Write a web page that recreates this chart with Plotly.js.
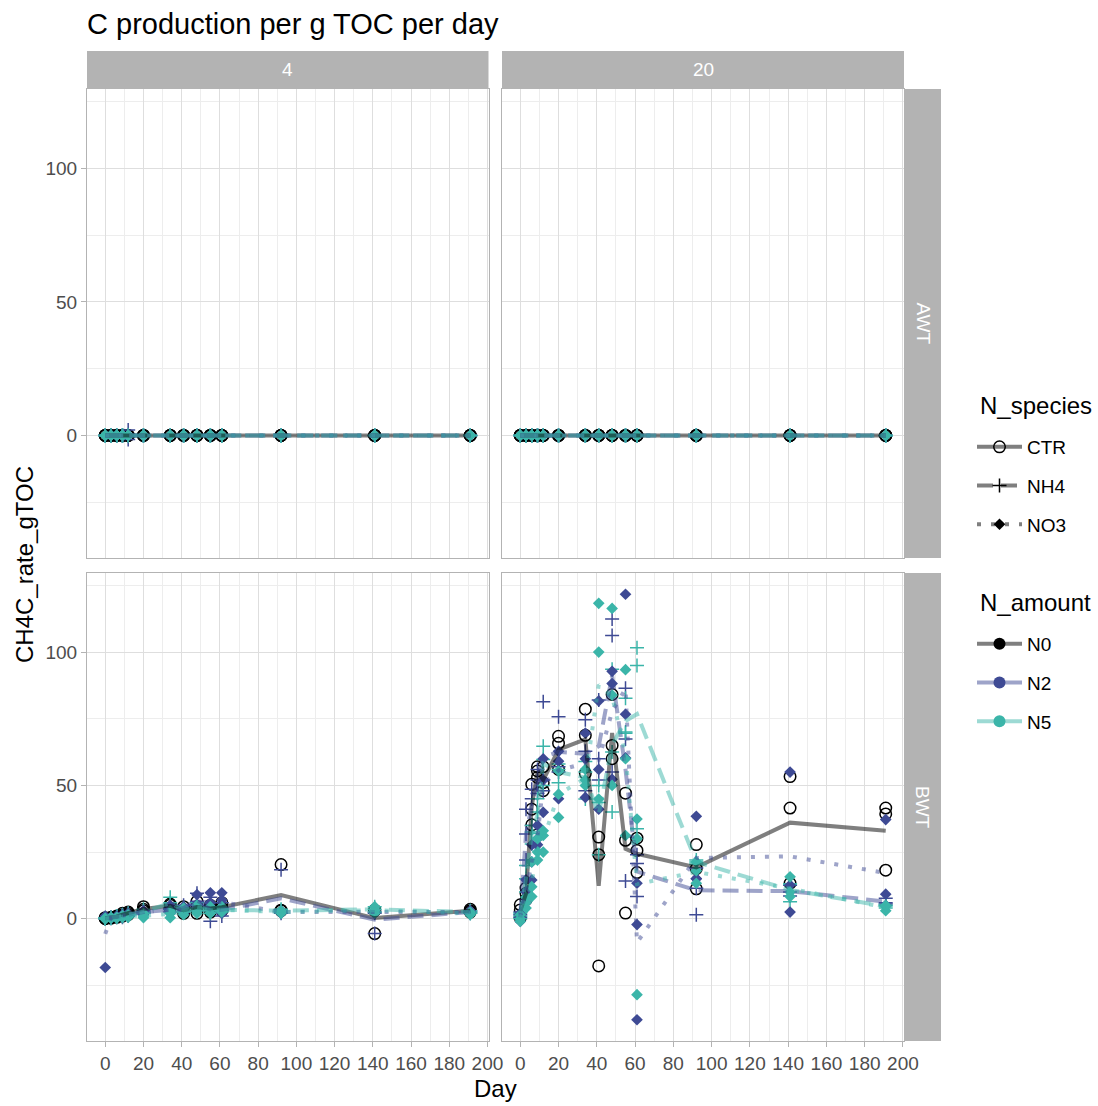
<!DOCTYPE html>
<html><head><meta charset="utf-8">
<script src="https://cdn.plot.ly/plotly-3.0.1.min.js"></script>
<style>html,body{margin:0;padding:0;background:#fff}</style>
</head><body><div id="chart" style="width:1098px;height:1106px"></div>
<script>
// ---------------- DATA ----------------
const days = [0, 3, 6, 9, 12, 20, 34, 41, 48, 55, 61, 92, 141, 191];
const temperatures = ["4", "20"];
const sites = ["AWT", "BWT"];
const speciesLevels = ["CTR", "NH4", "NO3"];
const amountLevels = ["N0", "N2", "N5"];
const treatmentSpecies = ["CTR", "NH4", "NH4", "NO3", "NO3"];
const treatmentAmount  = ["N0", "N2", "N5", "N2", "N5"];

// AWT, 4 degrees: three replicates per treatment, aligned with days
const awt4_ctr_n0 = [[0,0,0,0,0,0,0,0,0,0,0,0,0,0],[0,0,0,0,0,0,0,0,0,0,0,0,0,0],[0,0,0,0,0,0,0,0,0,0,0,0,0,0]];
const awt4_nh4_n2 = [[0,0,0,0,2,0,0,0,0,0,0,0,0,0],[0,0,0,0,-1.5,0,0,0,0,0,0,0,0,0],[0,0,0,0,0,0,0,0,0,0,0,0,0,0]];
const awt4_nh4_n5 = [[0,0,0,0,0,0,0,0,0,0,0,0,0,0],[0,0,0,0,0,0,0,0,0,0,0,0,0,0],[0,0,0,0,0,0,0,0,0,0,0,0,0,0]];
const awt4_no3_n2 = [[0,0,0,0,0,0,0,0,0,0,0,0,0,0],[0,0,0,0,0,0,0,0,0,0,0,0,0,0],[0,0,0,0,0,0,0,0,0,0,0,0,0,0]];
const awt4_no3_n5 = [[0,0,0,0,0,0,0,0,0,0,0,0,0,0],[0,0,0,0,0,0,0,0,0,0,0,0,0,0],[0,0,0,0,0,0,0,0,0,0,0,0,0,0]];
// AWT, 20 degrees
const awt20_ctr_n0 = [[0,0,0,0,0,0,0,0,0,0,0,0,0,0],[0,0,0,0,0,0,0,0,0,0,0,0,0,0],[0,0,0,0,0,0,0,0,0,0,0,0,0,0]];
const awt20_nh4_n2 = [[0,0,0,0,0,0,0,0,0,0,0,0,0,0],[0,0,0,0,0,0,0,0,0,0,0,0,0,0],[0,0,0,0,0,0,0,0,0,0,0,0,0,0]];
const awt20_nh4_n5 = [[0,0,0,0,0,0,0,0,0,0,0,0,0,0],[0,0,0,0,0,0,0,0,0,0,0,0,0,0],[0,0,0,0,0,0,0,0,0,0,0,0,0,0]];
const awt20_no3_n2 = [[0,0,0,0,0,0,0,0,0,0,0,0,0,0],[0,0,0,0,0,0,0,0,0,0,0,0,0,0],[0,0,0,0,0,0,0,0,0,0,0,0,0,0]];
const awt20_no3_n5 = [[0,0,0,0,0,0,0,0,0,0,0,0,0,0],[0,0,0,0,0,0,0,0,0,0,0,0,0,0],[0,0,0,0,0,0,0,0,0,0,0,0,0,0]];
// BWT, 4 degrees
const bwt4_ctr_n0 = [
  [0.0, 0.3, 0.8, 1.5, 2.0, 3.5, 5.0, 3.0, 2.0, 4.0, 3.0, 20.3, -5.6, 3.0],
  [0.2, 0.5, 1.0, 1.0, 1.5, 3.0, 4.0, 2.0, 4.5, 2.5, 4.0, 3.0, 3.1, 3.5],
  [0.4, 0.2, 0.5, 2.0, 2.5, 4.5, 5.5, 4.5, 6.5, 5.0, 6.0, 3.2, 3.2, 2.5]];
const bwt4_nh4_n2 = [
  [0.0, 0.5, 1.0, 1.5, 2.0, 3.0, 4.0, 3.0, 9.5, 8.0, 1.0, 18.4, -5.6, 2.5],
  [0.3, 0.2, 0.5, 1.0, 1.5, 2.5, 2.5, 5.0, 6.5, -1.0, 3.0, 2.0, 2.5, 2.0],
  [0.1, 0.4, 0.8, 0.5, 1.0, 2.0, 3.5, 4.0, 5.0, 3.0, 6.0, 2.5, 2.0, 3.0]];
const bwt4_nh4_n5 = [
  [0.0, 0.5, 1.0, 1.5, 2.0, 3.5, 8.0, 4.0, 6.0, 4.5, 3.5, 3.0, 4.5, 2.0],
  [0.2, 0.2, 0.5, 1.0, 1.5, 2.0, 6.0, 2.5, 3.0, 3.0, 2.5, 2.5, 3.5, 3.0],
  [0.4, 0.3, 0.8, 0.8, 1.2, 2.5, 3.5, 3.0, 4.0, 2.0, 4.0, 3.5, 2.5, 2.5]];
const bwt4_no3_n2 = [
  [-18.3, 0.5, 1.0, 1.5, 2.0, 3.0, 5.0, 4.5, 9.0, 9.7, 9.7, 3.0, 2.0, 2.5],
  [1.0, 0.3, 0.5, 1.0, 1.5, 2.5, 2.0, 3.0, 5.5, 6.0, 7.0, 2.5, 3.0, 3.0],
  [0.3, 0.2, 0.8, 0.5, 1.0, 1.5, 3.5, 2.0, 3.0, 4.0, 2.0, 2.0, 2.5, 2.0]];
const bwt4_no3_n5 = [
  [0.0, 0.3, 0.5, 1.0, 0.5, 0.4, 0.4, 2.5, 3.0, 3.5, 2.5, 2.5, 3.0, 1.5],
  [0.2, 0.5, 0.2, 0.5, 1.0, 2.0, 3.0, 4.0, 5.0, 2.0, 4.5, 3.0, 4.5, 2.5],
  [-0.2, 0.2, 0.4, 1.2, 1.5, 1.0, 2.0, 1.5, 2.0, 4.5, 3.0, 2.0, 2.0, 2.0]];
// BWT, 20 degrees
const bwt20_ctr_n0 = [
  [0.3, 7.1, 50.4, 55.4, 51.0, 68.4, 78.6, 30.6, 84.1, 47.1, 30.2, 27.8, 53.3, 41.5],
  [3.3, 9.5, 41.1, 53.0, 48.0, 56.0, 68.8, 24.0, 65.0, 29.4, 25.6, 18.8, 41.5, 39.3],
  [5.2, 11.5, 35.2, 57.0, 57.0, 65.8, 54.5, -17.7, 60.0, 2.1, 17.3, 11.2, 13.3, 18.2]];
const bwt20_nh4_n2 = [
  [0.5, 22.0, 45.0, 52.0, 81.4, 75.8, 74.6, 82.0, 112.4, 86.4, 20.7, 1.5, 12.5, 7.7],
  [1.5, 31.8, 48.6, 56.0, 52.0, 57.0, 62.8, 52.0, 106.2, 67.4, 8.3, 11.4, 10.0, 6.0],
  [2.5, 41.1, 35.0, 47.0, 48.0, 55.0, 48.0, 60.0, 55.0, 14.1, 24.0, 19.0, 8.5, 5.5]];
const bwt20_nh4_n5 = [
  [0.0, 10.0, 32.5, 40.0, 64.7, 51.0, 59.0, 24.0, 93.6, 82.7, 101.6, 21.3, 6.4, 4.0],
  [1.0, 15.0, 28.0, 45.0, 59.7, 58.0, 44.9, 43.6, 62.5, 69.6, 95.0, 22.0, 13.0, 5.0],
  [2.0, 20.0, 35.0, 32.0, 50.0, 56.0, 55.0, 50.0, 40.0, 70.0, 33.7, 20.5, 13.0, 4.8]];
const bwt20_no3_n2 = [
  [-1.0, 6.0, 21.3, 27.7, 39.9, 62.8, 69.6, 81.7, 92.8, 121.7, 13.3, 38.4, 55.0, 37.2],
  [0.5, 10.0, 14.5, 30.0, 52.0, 59.1, 45.5, 56.0, 88.2, 76.7, -2.2, 15.0, 2.5, 9.2],
  [2.0, 14.6, 27.7, 35.0, 60.0, 45.0, 60.0, 41.1, 52.3, 60.3, -37.9, 15.0, 12.6, 5.0]];
const bwt20_no3_n5 = [
  [-1.0, 4.0, 8.3, 25.0, 25.0, 55.4, 56.0, 118.3, 116.4, 93.4, 37.4, 21.3, 15.7, 4.6],
  [0.0, 6.0, 12.0, 22.0, 31.2, 46.7, 50.0, 100.0, 83.9, 31.2, -28.5, 13.3, 8.3, 3.0],
  [1.5, 8.0, 21.3, 30.0, 33.0, 38.0, 52.0, 44.9, 50.0, 60.0, 30.0, 18.0, 10.0, 5.0]];

const title = "C production per g TOC per day";
const xTitle = "Day";
const yTitle = "CH4C_rate_gTOC";
const speciesTitle = "N_species";
const amountTitle = "N_amount";
const xTickVals = [0, 20, 40, 60, 80, 100, 120, 140, 160, 180, 200];
const xMinorVals = [10, 30, 50, 70, 90, 110, 130, 150, 170, 190];
const yTickVals = [0, 50, 100];
const yMinorVals = [-25, 25, 75, 125];

// ---------------- STYLE ----------------
const W = 1098, H = 1106;
const colX = [[87, 488.5], [502, 904]];
const rowY = [[89, 558], [573, 1041]];
const stripTop = [51, 88];
const stripRight = [905, 941];
const FONT = 'Liberation Sans, Arial, sans-serif';

const speciesStyle = {
  CTR: {symbol: 'circle-open', size: 11.5, dash: 'solid'},
  NH4: {symbol: 'cross-thin-open', size: 10, dash: '16px,8px'},
  NO3: {symbol: 'diamond', size: 9, dash: '4px,10px'}
};
const amountColor = {N0: '#000000', N2: '#3E4A94', N5: '#3BB5A9'};
const amountLine = {N0: 'rgba(0,0,0,0.5)', N2: 'rgba(62,74,148,0.5)', N5: 'rgba(59,181,169,0.5)'};

const panelData = {
  "AWT|4":  [awt4_ctr_n0, awt4_nh4_n2, awt4_nh4_n5, awt4_no3_n2, awt4_no3_n5],
  "AWT|20": [awt20_ctr_n0, awt20_nh4_n2, awt20_nh4_n5, awt20_no3_n2, awt20_no3_n5],
  "BWT|4":  [bwt4_ctr_n0, bwt4_nh4_n2, bwt4_nh4_n5, bwt4_no3_n2, bwt4_no3_n5],
  "BWT|20": [bwt20_ctr_n0, bwt20_nh4_n2, bwt20_nh4_n5, bwt20_no3_n2, bwt20_no3_n5]
};

// data range with ggplot-like 5% expansion
let ymin = Infinity, ymax = -Infinity;
Object.values(panelData).forEach(p => p.forEach(t => t.forEach(r => r.forEach(v => {
  if (v < ymin) ymin = v; if (v > ymax) ymax = v; }))));
const yPad = (ymax - ymin) * 0.05;
const yRange = [ymin - yPad, ymax + yPad];
const dmin = Math.min(...days), dmax = Math.max(...days);
const xPad = (dmax - dmin) * 0.05;
const xRange = [dmin - xPad, dmax + xPad];

function markerFor(sp, am) {
  const s = speciesStyle[sp], c = amountColor[am];
  if (sp === 'NO3') return {symbol: s.symbol, size: s.size, color: c, line: {width: 0}};
  return {symbol: s.symbol, size: s.size, color: c, line: {color: c, width: 1.5}};
}

const pointTraces = [], lineTraces = [];
let k = 0;
sites.forEach((site, ri) => {
  temperatures.forEach((temp, ci) => {
    k += 1;
    const xa = k === 1 ? 'x' : 'x' + k, ya = k === 1 ? 'y' : 'y' + k;
    const reps = panelData[site + '|' + temp];
    reps.forEach((t, ti) => {
      const sp = treatmentSpecies[ti], am = treatmentAmount[ti];
      const xs = [], ys = [];
      t.forEach(r => r.forEach((v, i) => { xs.push(days[i]); ys.push(v); }));
      pointTraces.push({type: 'scatter', mode: 'markers', x: xs, y: ys, xaxis: xa, yaxis: ya,
        marker: markerFor(sp, am), showlegend: false, hoverinfo: 'skip'});
      const means = days.map((d, i) => t.reduce((s, r) => s + r[i], 0) / t.length);
      lineTraces.push({type: 'scatter', mode: 'lines', x: days, y: means, xaxis: xa, yaxis: ya,
        line: {color: amountLine[am], width: 4, dash: speciesStyle[sp].dash}, showlegend: false, hoverinfo: 'skip'});
    });
  });
});

// legend-only traces
const legendTraces = [];
speciesLevels.forEach(sp => {
  legendTraces.push({type: 'scatter', mode: 'lines+markers', x: [null], y: [null], name: sp,
    legend: 'legend', legendgroup: 'sp' + sp, line: {color: 'rgba(0,0,0,0.5)', width: 4, dash: speciesStyle[sp].dash},
    marker: markerFor(sp, 'N0')});
});
amountLevels.forEach(am => {
  legendTraces.push({type: 'scatter', mode: 'lines+markers', x: [null], y: [null], name: am,
    legend: 'legend2', legendgroup: 'am' + am, line: {color: amountLine[am], width: 4},
    marker: {symbol: 'circle', size: 12, color: amountColor[am]}});
});

const gridMajor = '#DEDEDE', gridMinor = '#EDEDED', borderC = '#B3B3B3', tickC = '#4D4D4D';
function xAxis(ci, ri, k, bottom) {
  return {domain: [colX[ci][0] / W, colX[ci][1] / W], anchor: k === 1 ? 'y' : 'y' + k,
    range: xRange, tickmode: 'array', tickvals: xTickVals,
    ticktext: xTickVals.map(String), showticklabels: bottom, ticks: bottom ? 'outside' : '', ticklen: 5,
    tickcolor: borderC, tickwidth: 1, tickangle: 0, tickfont: {size: 19, color: tickC, family: FONT},
    showgrid: true, gridcolor: gridMajor, gridwidth: 1,
    minor: {tickmode: 'array', tickvals: xMinorVals, showgrid: true, gridcolor: gridMinor, gridwidth: 1},
    zeroline: false, showline: true, mirror: true, linecolor: borderC, linewidth: 1, fixedrange: true};
}
function yAxis(ri, ci, k, left) {
  return {domain: [1 - rowY[ri][1] / H, 1 - rowY[ri][0] / H], anchor: k === 1 ? 'x' : 'x' + k,
    range: yRange, tickmode: 'array', tickvals: yTickVals,
    ticktext: yTickVals.map(String), showticklabels: left, ticks: left ? 'outside' : '', ticklen: 5,
    tickcolor: borderC, tickwidth: 1, tickfont: {size: 19, color: tickC, family: FONT},
    showgrid: true, gridcolor: gridMajor, gridwidth: 1,
    minor: {tickmode: 'array', tickvals: yMinorVals, showgrid: true, gridcolor: gridMinor, gridwidth: 1},
    zeroline: false, showline: true, mirror: true, linecolor: borderC, linewidth: 1, fixedrange: true};
}

const shapes = [], annotations = [];
temperatures.forEach((temp, ci) => {
  shapes.push({type: 'rect', xref: 'paper', yref: 'paper', x0: colX[ci][0] / W, x1: colX[ci][1] / W,
    y0: 1 - stripTop[1] / H, y1: 1 - stripTop[0] / H, fillcolor: '#B3B3B3', line: {width: 0}, layer: 'below'});
  annotations.push({xref: 'paper', yref: 'paper', x: (colX[ci][0] + colX[ci][1]) / 2 / W,
    y: 1 - (stripTop[0] + stripTop[1]) / 2 / H, text: temp, showarrow: false, xanchor: 'center', yanchor: 'middle',
    font: {size: 19, color: '#FFFFFF'}});
});
sites.forEach((site, ri) => {
  shapes.push({type: 'rect', xref: 'paper', yref: 'paper', x0: stripRight[0] / W, x1: stripRight[1] / W,
    y0: 1 - rowY[ri][1] / H, y1: 1 - rowY[ri][0] / H, fillcolor: '#B3B3B3', line: {width: 0}, layer: 'below'});
  annotations.push({xref: 'paper', yref: 'paper', x: (stripRight[0] + stripRight[1]) / 2 / W,
    y: 1 - (rowY[ri][0] + rowY[ri][1]) / 2 / H, text: site, showarrow: false, textangle: 90,
    xanchor: 'center', yanchor: 'middle', font: {size: 19, color: '#FFFFFF'}});
});
annotations.push({xref: 'paper', yref: 'paper', x: (colX[0][0] + colX[1][1]) / 2 / W, y: 1 - 1088 / H,
  text: xTitle, showarrow: false, xanchor: 'center', yanchor: 'middle', font: {size: 24, color: '#000'}});
annotations.push({xref: 'paper', yref: 'paper', x: 24 / W, y: 1 - 565 / H, text: yTitle, textangle: -90,
  showarrow: false, xanchor: 'center', yanchor: 'middle', font: {size: 24, color: '#000'}});
annotations.push({xref: 'paper', yref: 'paper', x: 978 / W, y: 1 - 405 / H, text: speciesTitle,
  showarrow: false, xanchor: 'left', yanchor: 'middle', font: {size: 24, color: '#000'}});
annotations.push({xref: 'paper', yref: 'paper', x: 978 / W, y: 1 - 602 / H, text: amountTitle,
  showarrow: false, xanchor: 'left', yanchor: 'middle', font: {size: 24, color: '#000'}});

const layout = {
  width: W, height: H, margin: {l: 0, r: 0, t: 0, b: 0}, paper_bgcolor: '#fff', plot_bgcolor: '#fff',
  font: {family: FONT, color: '#000'},
  title: {text: title, x: 87 / W, xanchor: 'left', xref: 'container', y: 1 - 24 / H, yanchor: 'middle', yref: 'container',
    font: {size: 29, color: '#000'}},
  xaxis: xAxis(0, 0, 1, false), yaxis: yAxis(0, 0, 1, true),
  xaxis2: xAxis(1, 0, 2, false), yaxis2: yAxis(0, 1, 2, false),
  xaxis3: xAxis(0, 1, 3, true), yaxis3: yAxis(1, 0, 3, true),
  xaxis4: xAxis(1, 1, 4, true), yaxis4: yAxis(1, 1, 4, false),
  showlegend: true,
  legend: {x: 972 / W, xanchor: 'left', y: 1 - 428 / H, yanchor: 'top', traceorder: 'grouped', tracegroupgap: 11,
    itemwidth: 45, bgcolor: 'rgba(0,0,0,0)', borderwidth: 0, font: {size: 19, color: '#000'}},
  legend2: {x: 972 / W, xanchor: 'left', y: 1 - 625 / H, yanchor: 'top', traceorder: 'grouped', tracegroupgap: 11,
    itemwidth: 45, bgcolor: 'rgba(0,0,0,0)', borderwidth: 0, font: {size: 19, color: '#000'}},
  shapes: shapes, annotations: annotations
};

Plotly.newPlot('chart', pointTraces.concat(lineTraces).concat(legendTraces), layout, {staticPlot: true, displayModeBar: false});
</script></body></html>
